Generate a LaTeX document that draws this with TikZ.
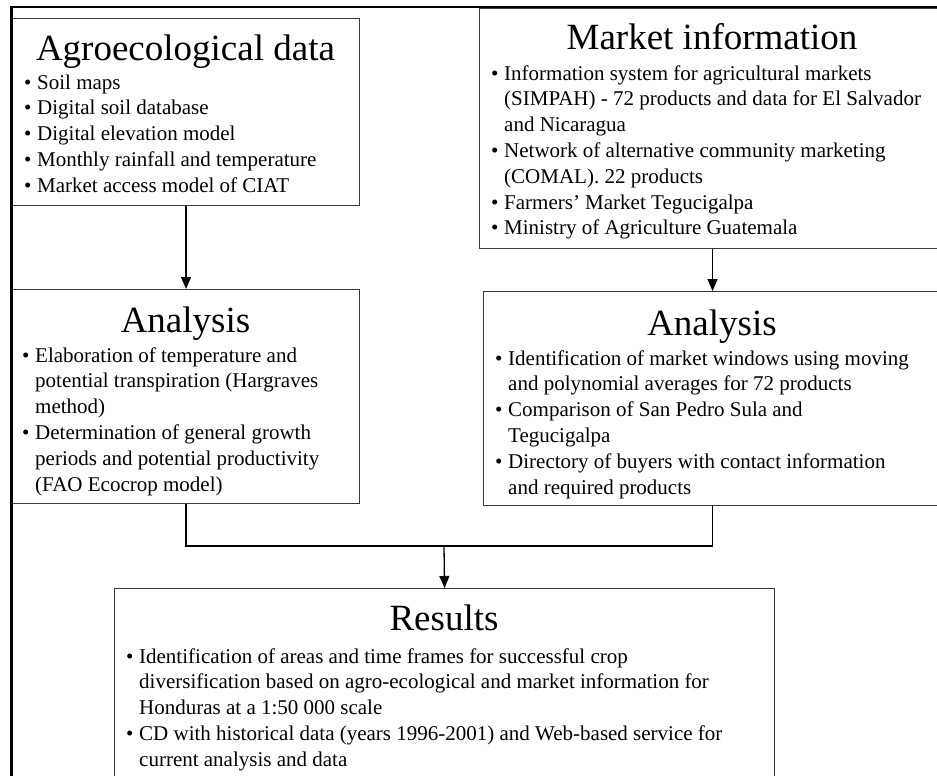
\documentclass[tikz,border=0pt]{standalone}
\usepackage{fontspec}
\setmainfont{Liberation Serif}
\usetikzlibrary{arrows.meta}
\definecolor{boxgray}{HTML}{3A3A3A}
% bullet and continuation-line indents for the item lists
\newcommand\bitem{\makebox[13pt][l]{\textbullet}}
\newcommand\cont{\hspace*{13pt}}
\begin{document}
\begin{tikzpicture}[x=1pt,y=-1pt,
  box/.style={draw=boxgray,line width=1.1pt,inner sep=0pt,anchor=north west},
  ttl/.style={font=\fontsize{37}{44}\selectfont,anchor=base,inner sep=0pt},
  % lists are placed by the baseline of their last line
  body/.style={font=\fontsize{21}{25.8}\selectfont,align=left,anchor=base west,inner sep=0pt},
  conn/.style={line width=1.3pt,black},
  arr/.style={conn,-{Triangle[length=12pt,width=10pt]}},
  frameline/.style={line width=2.4pt,black}]
\path[use as bounding box] (0,0) rectangle (937,776);
\clip (0,0) rectangle (937,776);

% boxes
\node[box,minimum width=347pt,minimum height=187pt] (A)  at (12,18)   {};
\node[box,minimum width=466pt,minimum height=240pt] (M)  at (479,8)   {};
\node[box,minimum width=347pt,minimum height=214pt] (AL) at (12,289)  {};
\node[box,minimum width=458pt,minimum height=214pt] (AR) at (483,291) {};
\node[box,minimum width=660pt,minimum height=220pt] (R)  at (114,588) {};

% titles
\node[ttl] (At)  at (185.5,60) {Agroecological data};
\node[ttl] (Mt)  at (712,50)   {Market information};
\node[ttl] (ALt) at (185.5,332) {Analysis};
\node[ttl] (ARt) at (712,335)  {Analysis};
\node[ttl] (Rt)  at (444,630)  {Results};

% item lists
\node[body] (Ab) at (24,192.2) {%
\bitem Soil maps\\
\bitem Digital soil database\\
\bitem Digital elevation model\\
\bitem Monthly rainfall and temperature\\
\bitem Market access model of CIAT};

\node[body] (Mb) at (491,234.8) {%
\bitem Information system for agricultural markets\\
\cont (SIMPAH) - 72 products and data for El Salvador\\
\cont and Nicaragua\\
\bitem Network of alternative community marketing\\
\cont (COMAL). 22 products\\
\bitem Farmers’ Market Tegucigalpa\\
\bitem Ministry of Agriculture Guatemala};

\node[body] (ALb) at (22,491) {%
\bitem Elaboration of temperature and\\
\cont potential transpiration (Hargraves\\
\cont method)\\
\bitem Determination of general growth\\
\cont periods and potential productivity\\
\cont (FAO Ecocrop model)};

\node[body] (ARb) at (495,494) {%
\bitem Identification of market windows using moving\\
\cont and polynomial averages for 72 products\\
\bitem Comparison of San Pedro Sula and\\
\cont Tegucigalpa\\
\bitem Directory of buyers with contact information\\
\cont and required products};

\node[body] (Rb) at (126,766.2) {%
\bitem Identification of areas and time frames for successful crop\\
\cont diversification based on agro-ecological and market information for\\
\cont Honduras at a 1:50 000 scale\\
\bitem CD with historical data (years 1996-2001) and Web-based service for\\
\cont current analysis and data};

% connectors
\coordinate (join) at (444,546);
\draw[arr] (A.south) -- (AL.north);
\draw[arr] (M.south) -- (AR.north);
\draw[conn] (AL.south) |- (join) -| (AR.south);
\draw[arr] (join) -- (R.north);

% outer frame
\draw[frameline] (10,7) -- (940,7);
\draw[frameline] (11.5,7) -- (11.5,780);
\end{tikzpicture}
\end{document}
